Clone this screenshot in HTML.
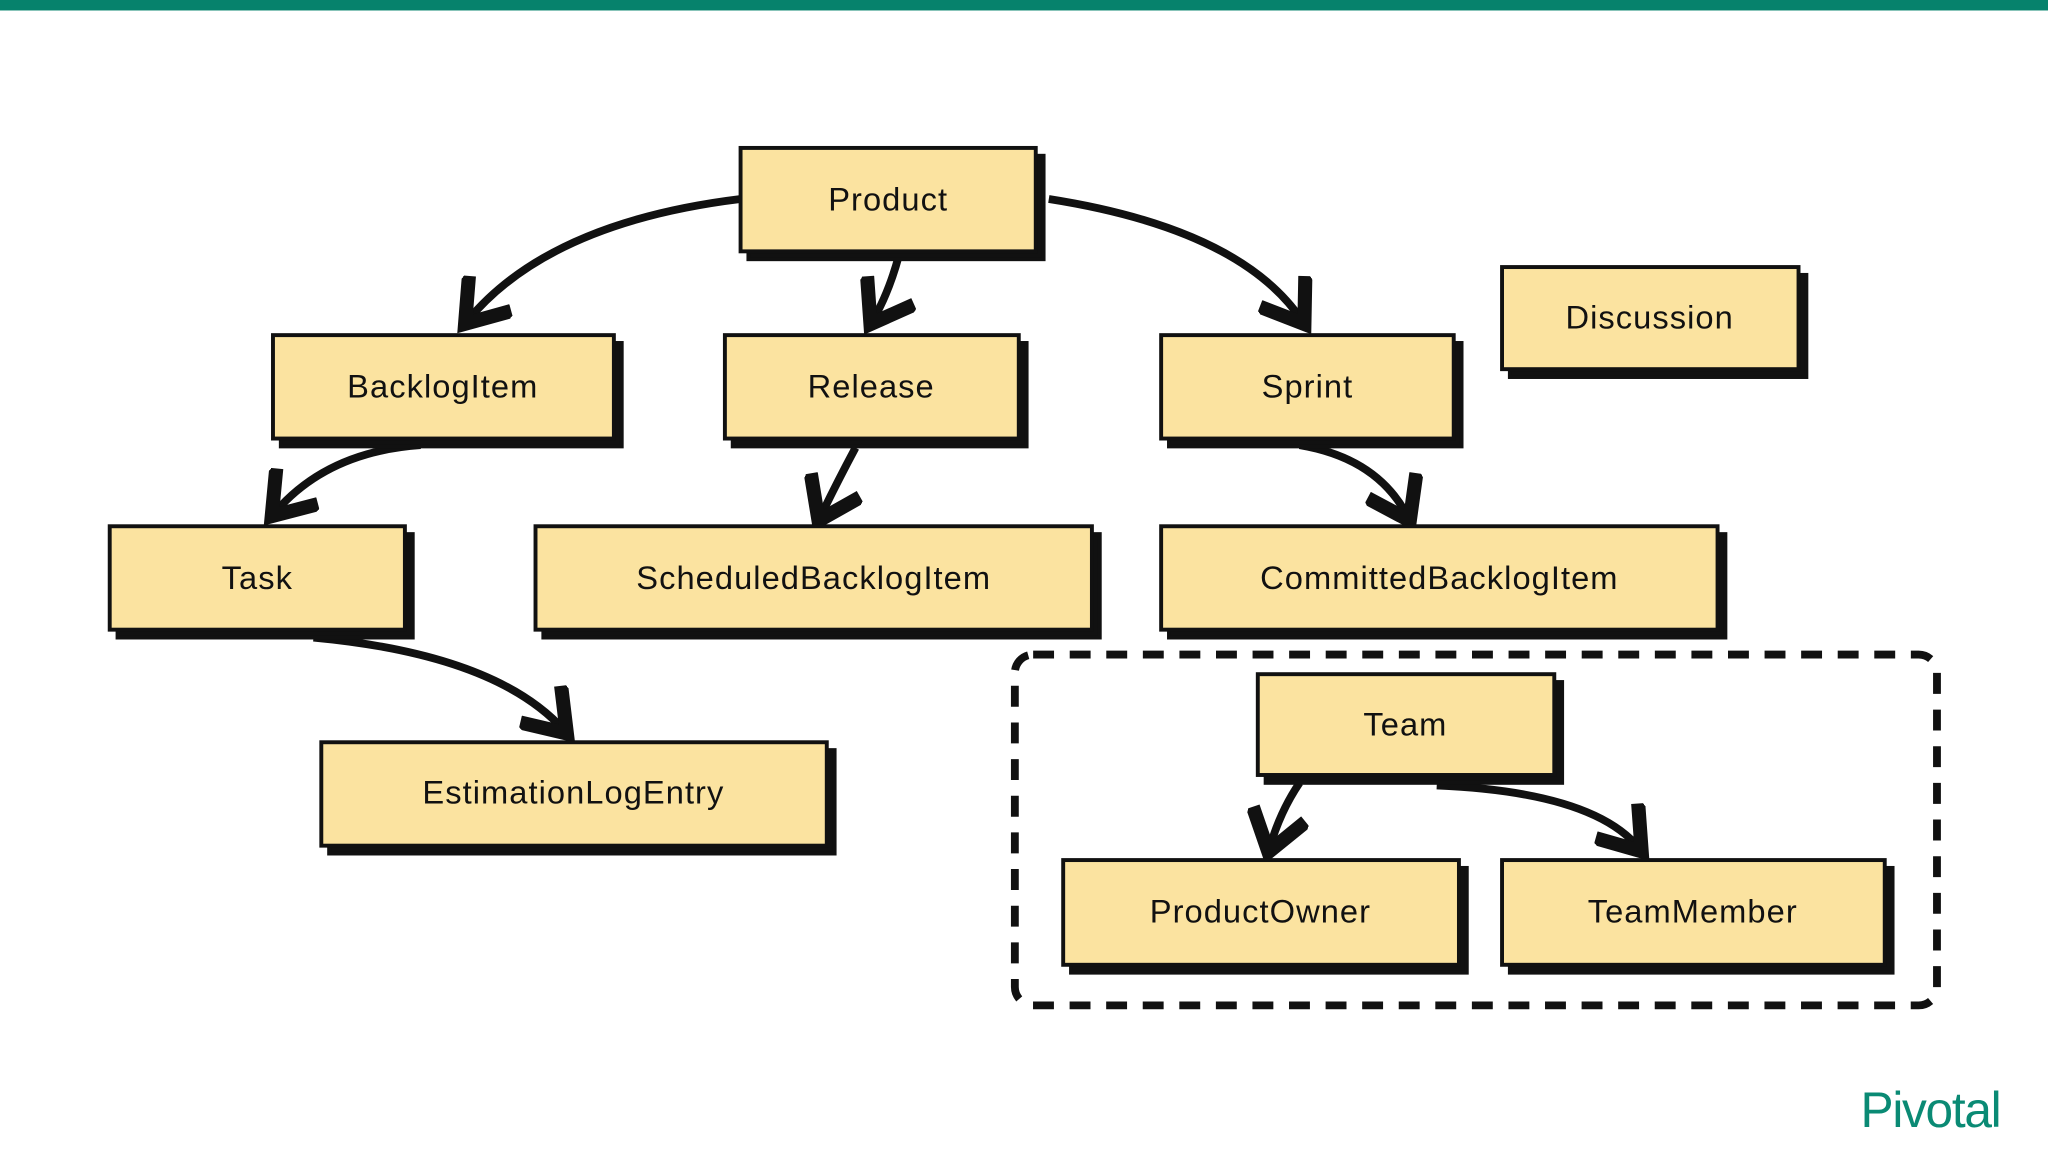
<!DOCTYPE html>
<html><head><style>
html,body{margin:0;padding:0;background:#fff;}
svg{display:block}
text{font-family:"Liberation Sans",sans-serif;font-size:25px;fill:#111;text-anchor:middle;dominant-baseline:central;letter-spacing:0.8px}
</style></head><body>
<svg width="2048" height="1152" viewBox="0 0 1568 880" preserveAspectRatio="none">
<defs>
<marker id="a" markerWidth="8" markerHeight="8" refX="5" refY="4" orient="auto" markerUnits="strokeWidth">
<path d="M0.5,0.5 L5.5,4 L0.5,7.5" fill="none" stroke="#111" stroke-width="1.8"/>
</marker>
</defs>
<rect x="0" y="0" width="1568" height="8" fill="#06826c"/>
<g fill="none" stroke="#111" stroke-width="6" marker-end="url(#a)">
<path d="M567,152 Q420,170 358,245"/>
<path d="M688,196 Q680,225 668,245"/>
<path d="M803,152 Q950,175 997,245"/>
<path d="M322,340 Q250,345 210,392"/>
<path d="M655,342 Q640,370 628,395"/>
<path d="M995,340 Q1055,350 1078,395"/>
<path d="M240,487 Q380,500 432,558"/>
<path d="M995,598 Q980,620 972,648"/>
<path d="M1100,600 Q1220,605 1255,648"/>
</g>
<rect x="777" y="500" width="706" height="268" rx="14" fill="none" stroke="#111" stroke-width="6" stroke-dasharray="16,12"/>
<g stroke="#111" stroke-width="3" fill="#fbe3a0">
<g><rect x="573" y="119" width="226" height="79" fill="#111"/><rect x="567" y="113" width="226" height="79"/></g>
<g><rect x="215" y="262" width="261" height="79" fill="#111"/><rect x="209" y="256" width="261" height="79"/></g>
<g><rect x="561" y="262" width="225" height="79" fill="#111"/><rect x="555" y="256" width="225" height="79"/></g>
<g><rect x="895" y="262" width="224" height="79" fill="#111"/><rect x="889" y="256" width="224" height="79"/></g>
<g><rect x="1156" y="210" width="227" height="78" fill="#111"/><rect x="1150" y="204" width="227" height="78"/></g>
<g><rect x="90" y="408" width="226" height="79" fill="#111"/><rect x="84" y="402" width="226" height="79"/></g>
<g><rect x="416" y="408" width="426" height="79" fill="#111"/><rect x="410" y="402" width="426" height="79"/></g>
<g><rect x="895" y="408" width="426" height="79" fill="#111"/><rect x="889" y="402" width="426" height="79"/></g>
<g><rect x="252" y="573" width="387" height="79" fill="#111"/><rect x="246" y="567" width="387" height="79"/></g>
<g><rect x="969" y="521" width="227" height="77" fill="#111"/><rect x="963" y="515" width="227" height="77"/></g>
<g><rect x="820" y="663" width="303" height="80" fill="#111"/><rect x="814" y="657" width="303" height="80"/></g>
<g><rect x="1156" y="663" width="293" height="80" fill="#111"/><rect x="1150" y="657" width="293" height="80"/></g>
</g>
<text x="680" y="152">Product</text>
<text x="339" y="295">BacklogItem</text>
<text x="667" y="295">Release</text>
<text x="1001" y="295">Sprint</text>
<text x="1263" y="242">Discussion</text>
<text x="197" y="441">Task</text>
<text x="623" y="441">ScheduledBacklogItem</text>
<text x="1102" y="441">CommittedBacklogItem</text>
<text x="439" y="605">EstimationLogEntry</text>
<text x="1076" y="553">Team</text>
<text x="965" y="696">ProductOwner</text>
<text x="1296" y="696">TeamMember</text>
<text x="1478" y="848" style="font-size:38px;fill:#0a8a74;text-anchor:middle;letter-spacing:-1px">Pivotal</text>
</svg>
</body></html>
